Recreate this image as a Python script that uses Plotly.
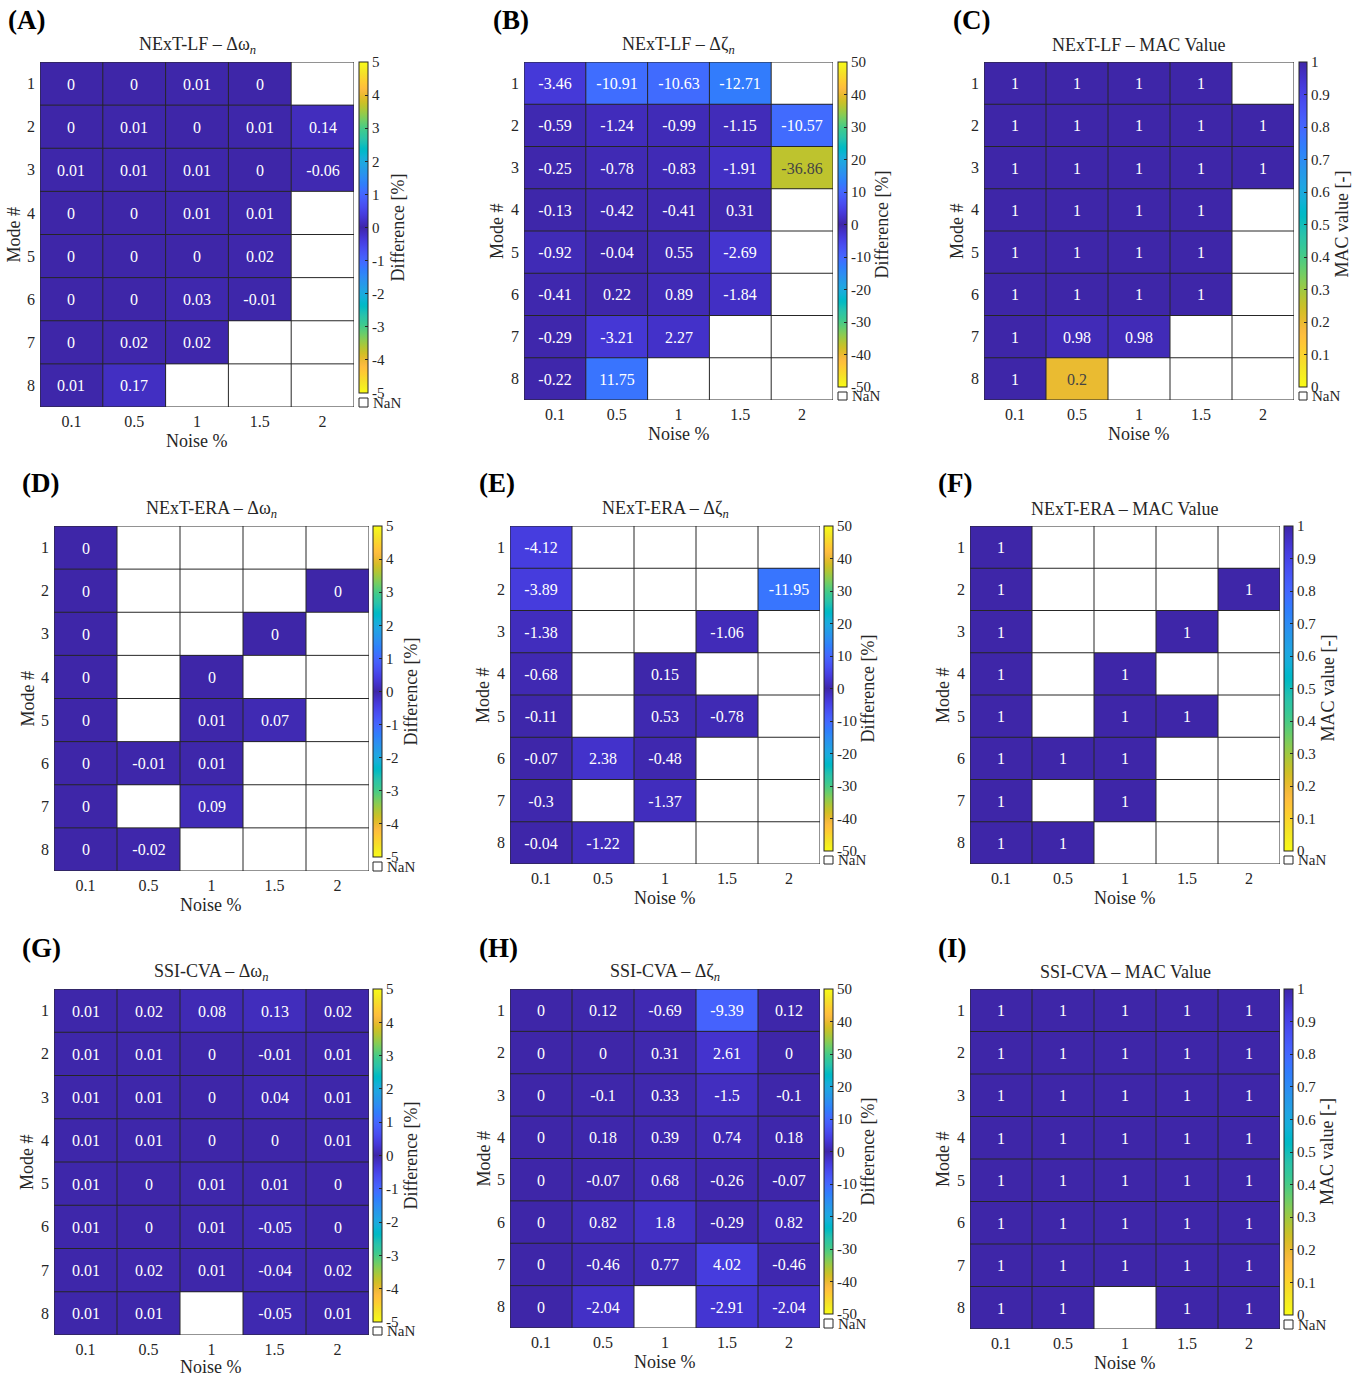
import plotly.graph_objects as go

W, H = 1367, 1378
N = None  # missing identification

noise_levels = ["0.1", "0.5", "1", "1.5", "2"]
mode_numbers = ["1", "2", "3", "4", "5", "6", "7", "8"]

# NExT-LF
lf_dw = [
    [0, 0, 0.01, 0, N],
    [0, 0.01, 0, 0.01, 0.14],
    [0.01, 0.01, 0.01, 0, -0.06],
    [0, 0, 0.01, 0.01, N],
    [0, 0, 0, 0.02, N],
    [0, 0, 0.03, -0.01, N],
    [0, 0.02, 0.02, N, N],
    [0.01, 0.17, N, N, N],
]
lf_dz = [
    [-3.46, -10.91, -10.63, -12.71, N],
    [-0.59, -1.24, -0.99, -1.15, -10.57],
    [-0.25, -0.78, -0.83, -1.91, -36.86],
    [-0.13, -0.42, -0.41, 0.31, N],
    [-0.92, -0.04, 0.55, -2.69, N],
    [-0.41, 0.22, 0.89, -1.84, N],
    [-0.29, -3.21, 2.27, N, N],
    [-0.22, 11.75, N, N, N],
]
lf_mac = [
    [1, 1, 1, 1, N],
    [1, 1, 1, 1, 1],
    [1, 1, 1, 1, 1],
    [1, 1, 1, 1, N],
    [1, 1, 1, 1, N],
    [1, 1, 1, 1, N],
    [1, 0.98, 0.98, N, N],
    [1, 0.2, N, N, N],
]

# NExT-ERA
era_dw = [
    [0, N, N, N, N],
    [0, N, N, N, 0],
    [0, N, N, 0, N],
    [0, N, 0, N, N],
    [0, N, 0.01, 0.07, N],
    [0, -0.01, 0.01, N, N],
    [0, N, 0.09, N, N],
    [0, -0.02, N, N, N],
]
era_dz = [
    [-4.12, N, N, N, N],
    [-3.89, N, N, N, -11.95],
    [-1.38, N, N, -1.06, N],
    [-0.68, N, 0.15, N, N],
    [-0.11, N, 0.53, -0.78, N],
    [-0.07, 2.38, -0.48, N, N],
    [-0.3, N, -1.37, N, N],
    [-0.04, -1.22, N, N, N],
]
era_mac = [
    [1, N, N, N, N],
    [1, N, N, N, 1],
    [1, N, N, 1, N],
    [1, N, 1, N, N],
    [1, N, 1, 1, N],
    [1, 1, 1, N, N],
    [1, N, 1, N, N],
    [1, 1, N, N, N],
]

# SSI-CVA
ssi_dw = [
    [0.01, 0.02, 0.08, 0.13, 0.02],
    [0.01, 0.01, 0, -0.01, 0.01],
    [0.01, 0.01, 0, 0.04, 0.01],
    [0.01, 0.01, 0, 0, 0.01],
    [0.01, 0, 0.01, 0.01, 0],
    [0.01, 0, 0.01, -0.05, 0],
    [0.01, 0.02, 0.01, -0.04, 0.02],
    [0.01, 0.01, N, -0.05, 0.01],
]
ssi_dz = [
    [0, 0.12, -0.69, -9.39, 0.12],
    [0, 0, 0.31, 2.61, 0],
    [0, -0.1, 0.33, -1.5, -0.1],
    [0, 0.18, 0.39, 0.74, 0.18],
    [0, -0.07, 0.68, -0.26, -0.07],
    [0, 0.82, 1.8, -0.29, 0.82],
    [0, -0.46, 0.77, 4.02, -0.46],
    [0, -2.04, N, -2.91, -2.04],
]
ssi_mac = [
    [1, 1, 1, 1, 1],
    [1, 1, 1, 1, 1],
    [1, 1, 1, 1, 1],
    [1, 1, 1, 1, 1],
    [1, 1, 1, 1, 1],
    [1, 1, 1, 1, 1],
    [1, 1, 1, 1, 1],
    [1, 1, N, 1, 1],
]

# MATLAB parula colormap (64 entries)
PARULA = [
    (0.2422, 0.1504, 0.6603), (0.2504, 0.1650, 0.7076), (0.2578, 0.1818, 0.7511),
    (0.2647, 0.1978, 0.7952), (0.2706, 0.2147, 0.8364), (0.2751, 0.2342, 0.8710),
    (0.2783, 0.2559, 0.8991), (0.2803, 0.2782, 0.9221), (0.2813, 0.3006, 0.9414),
    (0.2810, 0.3228, 0.9579), (0.2795, 0.3447, 0.9717), (0.2760, 0.3667, 0.9829),
    (0.2699, 0.3892, 0.9906), (0.2602, 0.4123, 0.9952), (0.2440, 0.4358, 0.9988),
    (0.2206, 0.4603, 0.9973), (0.1963, 0.4847, 0.9892), (0.1834, 0.5074, 0.9798),
    (0.1786, 0.5289, 0.9682), (0.1764, 0.5499, 0.9520), (0.1687, 0.5703, 0.9359),
    (0.1540, 0.5902, 0.9218), (0.1460, 0.6091, 0.9079), (0.1380, 0.6276, 0.8973),
    (0.1248, 0.6459, 0.8883), (0.1113, 0.6635, 0.8763), (0.0952, 0.6798, 0.8598),
    (0.0689, 0.6948, 0.8394), (0.0297, 0.7082, 0.8163), (0.0036, 0.7203, 0.7917),
    (0.0067, 0.7312, 0.7660), (0.0433, 0.7411, 0.7394), (0.0964, 0.7500, 0.7120),
    (0.1408, 0.7584, 0.6842), (0.1717, 0.7670, 0.6554), (0.1938, 0.7758, 0.6251),
    (0.2161, 0.7843, 0.5923), (0.2470, 0.7918, 0.5567), (0.2906, 0.7973, 0.5188),
    (0.3406, 0.8008, 0.4789), (0.3909, 0.8029, 0.4354), (0.4456, 0.8024, 0.3909),
    (0.5044, 0.7993, 0.3480), (0.5616, 0.7942, 0.3045), (0.6174, 0.7876, 0.2612),
    (0.6720, 0.7793, 0.2227), (0.7242, 0.7698, 0.1910), (0.7738, 0.7598, 0.1646),
    (0.8203, 0.7498, 0.1535), (0.8634, 0.7406, 0.1596), (0.9035, 0.7330, 0.1774),
    (0.9393, 0.7288, 0.2100), (0.9728, 0.7298, 0.2394), (0.9956, 0.7434, 0.2371),
    (0.9970, 0.7659, 0.2199), (0.9952, 0.7893, 0.2028), (0.9892, 0.8136, 0.1885),
    (0.9786, 0.8386, 0.1766), (0.9676, 0.8639, 0.1643), (0.9610, 0.8890, 0.1537),
    (0.9597, 0.9135, 0.1423), (0.9628, 0.9373, 0.1265), (0.9691, 0.9606, 0.1064),
    (0.9769, 0.9839, 0.0805),
]


def rgb(c):
    return "rgb(%d,%d,%d)" % tuple(round(v * 255) for v in c)


n = len(PARULA) - 1
# mirrored parula: dark at zero difference, yellow at both limits
SYM_SCALE = sorted(
    [[0.5 - 0.5 * i / n, rgb(c)] for i, c in enumerate(PARULA) if i > 0]
    + [[0.5 + 0.5 * i / n, rgb(c)] for i, c in enumerate(PARULA)]
)
# flipped parula: yellow at MAC 0, dark at MAC 1
MAC_SCALE = sorted([[1 - i / n, rgb(c)] for i, c in enumerate(PARULA)])

FONT = "Liberation Serif"
INK = "#262626"

DW = "Δω<sub><i>n</i></sub>"
DZ = "Δζ<sub><i>n</i></sub>"

# tag, title, data, kind, plot box (l, r, t, b), colorbar (l, r, bottom), colorbar-title x
panels = [
    ("(A)", "NExT-LF – " + DW, lf_dw, "dw", (40, 354, 62, 407), (359, 368, 393), 397),
    ("(B)", "NExT-LF – " + DZ, lf_dz, "dz", (524, 833, 62, 400), (838, 847, 387), 882),
    ("(C)", "NExT-LF – MAC Value", lf_mac, "mac", (984, 1294, 62, 400), (1299, 1307, 387), 1342),
    ("(D)", "NExT-ERA – " + DW, era_dw, "dw", (54, 369, 526, 871), (373, 382, 857), 410),
    ("(E)", "NExT-ERA – " + DZ, era_dz, "dz", (510, 820, 526, 864), (824, 833, 851), 867),
    ("(F)", "NExT-ERA – MAC Value", era_mac, "mac", (970, 1280, 526, 864), (1284, 1293, 851), 1327),
    ("(G)", "SSI-CVA – " + DW, ssi_dw, "dw", (54, 369, 989, 1335), (373, 382, 1322), 410),
    ("(H)", "SSI-CVA – " + DZ, ssi_dz, "dz", (510, 820, 989, 1328), (824, 833, 1314), 867),
    ("(I)", "SSI-CVA – MAC Value", ssi_mac, "mac", (970, 1280, 989, 1329), (1284, 1293, 1315), 1327),
]
tag_pos = [(6, 20), (491, 20), (951, 20), (20, 483), (477, 483), (936, 483),
           (20, 948), (477, 948), (936, 948)]

color_specs = {
    "dw": dict(zmin=-5, zmax=5, scale=SYM_SCALE, ticks=list(range(-5, 6)), label="Difference [%]"),
    "dz": dict(zmin=-50, zmax=50, scale=SYM_SCALE, ticks=list(range(-50, 51, 10)), label="Difference [%]"),
    "mac": dict(zmin=0, zmax=1, scale=MAC_SCALE, ticks=[i / 10 for i in range(11)], label="MAC value [-]"),
}


def fmt(v):
    return "" if v is None else "%g" % v


def px(x):
    return x / W


def py(y):
    return 1 - y / H


fig = go.Figure()
shapes, annots = [], []
layout = {}

for k, (tag, title, data, kind, box, cb, cbt_x) in enumerate(panels):
    idx = "" if k == 0 else str(k + 1)
    l, r, t, b = box
    cl, cr, cb_bot = cb
    spec = color_specs[kind]
    ncol, nrow = len(noise_levels), len(mode_numbers)

    fig.add_trace(go.Heatmap(
        z=data,
        x=list(range(ncol)),
        y=list(range(nrow)),
        text=[[fmt(v) for v in row] for row in data],
        texttemplate="%{text}",
        textfont=dict(family=FONT, size=16),
        colorscale=spec["scale"],
        zmin=spec["zmin"], zmax=spec["zmax"],
        xaxis="x" + idx, yaxis="y" + idx,
        hoverongaps=False,
        colorbar=dict(
            x=px(cl), xanchor="left", xpad=0,
            y=py(t), yanchor="top", ypad=0,
            len=cb_bot - t, lenmode="pixels",
            thickness=cr - cl, thicknessmode="pixels",
            outlinewidth=1, outlinecolor=INK,
            tickvals=spec["ticks"], ticktext=[fmt(v) for v in spec["ticks"]],
            ticks="inside", ticklen=3, tickcolor=INK,
            tickfont=dict(family=FONT, size=15, color=INK),
        ),
    ))

    layout["xaxis" + idx] = dict(
        domain=[px(l), px(r)], anchor="y" + idx,
        range=[-0.5, ncol - 0.5],
        tickvals=list(range(ncol)), ticktext=noise_levels,
        showgrid=False, zeroline=False, showline=False, ticks="",
        ticklabelstandoff=3,
        tickfont=dict(family=FONT, size=16, color=INK), fixedrange=True,
    )
    layout["yaxis" + idx] = dict(
        domain=[py(b), py(t)], anchor="x" + idx,
        range=[nrow - 0.5, -0.5],
        tickvals=list(range(nrow)), ticktext=mode_numbers,
        showgrid=False, zeroline=False, showline=False, ticks="",
        ticklabelstandoff=4,
        tickfont=dict(family=FONT, size=16, color=INK), fixedrange=True,
    )

    # cell borders
    xr, yr = "x" + idx, "y" + idx
    for i in range(ncol + 1):
        shapes.append(dict(type="line", xref=xr, yref=yr, x0=i - 0.5, x1=i - 0.5,
                           y0=-0.5, y1=nrow - 0.5, line=dict(color=INK, width=1)))
    for j in range(nrow + 1):
        shapes.append(dict(type="line", xref=xr, yref=yr, x0=-0.5, x1=ncol - 0.5,
                           y0=j - 0.5, y1=j - 0.5, line=dict(color=INK, width=1)))

    # NaN key below the colour bar
    shapes.append(dict(type="rect", xref="paper", yref="paper",
                       x0=px(cl), x1=px(cr), y0=py(b), y1=py(cb_bot + 5),
                       line=dict(color=INK, width=1), fillcolor="white"))
    annots.append(dict(text="NaN", x=px(cr + 3), y=py((cb_bot + 5 + b) / 2),
                       xref="paper", yref="paper", xanchor="left", yanchor="middle",
                       showarrow=False, font=dict(family=FONT, size=15, color=INK)))

    # titles and labels
    annots.append(dict(text=title, x=px((l + r) / 2), y=py(t - 17), xref="paper", yref="paper",
                       xanchor="center", yanchor="middle", showarrow=False,
                       font=dict(family=FONT, size=18, color=INK)))
    annots.append(dict(text="Noise %", x=px((l + r) / 2), y=py(min(b + 34, H - 11)),
                       xref="paper", yref="paper",
                       xanchor="center", yanchor="middle", showarrow=False,
                       font=dict(family=FONT, size=18, color=INK)))
    annots.append(dict(text="Mode #", x=px(l - 27), y=py((t + b) / 2), xref="paper", yref="paper",
                       xanchor="center", yanchor="middle", textangle=-90, showarrow=False,
                       font=dict(family=FONT, size=18, color=INK)))
    annots.append(dict(text=spec["label"], x=px(cbt_x), y=py((t + cb_bot) / 2),
                       xref="paper", yref="paper", xanchor="center", yanchor="middle",
                       textangle=-90, showarrow=False,
                       font=dict(family=FONT, size=18, color=INK)))
    tx, ty = tag_pos[k]
    annots.append(dict(text="<b>%s</b>" % tag, x=px(tx), y=py(ty), xref="paper", yref="paper",
                       xanchor="left", yanchor="middle", showarrow=False,
                       font=dict(family=FONT, size=27, color="black")))

fig.update_layout(
    width=W, height=H,
    margin=dict(l=0, r=0, t=0, b=0),
    paper_bgcolor="white", plot_bgcolor="white",
    font=dict(family=FONT, color=INK),
    shapes=shapes, annotations=annots,
    **layout,
)

fig.write_html("out.html")
